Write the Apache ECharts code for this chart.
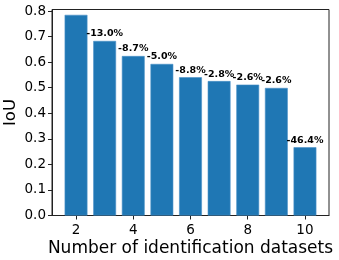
<!DOCTYPE html>
<html>
<head>
<meta charset="utf-8">
<script src="https://cdn.jsdelivr.net/npm/echarts@6/dist/echarts.min.js"></script>
<style>
html,body{margin:0;padding:0;background:#fff;}
#c{width:339px;height:260px;}
</style>
</head>
<body>
<div id="c"></div>
<script>
const datasets = [2, 3, 4, 5, 6, 7, 8, 9, 10];
const iou = [0.785, 0.683, 0.624, 0.593, 0.541, 0.526, 0.512, 0.499, 0.267];
const dropLabels = ['', '-13.0%', '-8.7%', '-5.0%', '-8.8%', '-2.8%', '-2.6%', '-2.6%', '-46.4%'];
const xTicks = [2, 4, 6, 8, 10];
const yTicks = [0, 0.1, 0.2, 0.3, 0.4, 0.5, 0.6, 0.7, 0.8];

const font = 'DejaVu Sans';
const chart = echarts.init(document.getElementById('c'), null, {renderer: 'canvas'});
chart.setOption({
  animation: false,
  backgroundColor: '#fff',
  grid: {left: 52, right: 10, top: 9.5, bottom: 44.5, outerBoundsMode: 'none', containLabel: false,
    show: true, borderColor: '#222', borderWidth: 1, backgroundColor: 'transparent'},
  xAxis: {
    type: 'value',
    min: 1.16, max: 10.84,
    name: 'Number of identification datasets',
    nameLocation: 'middle',
    nameGap: 25,
    nameMoveOverlap: false,
    nameTextStyle: {fontFamily: font, fontSize: 17, color: '#000'},
    axisLine: {show: true, onZero: false, lineStyle: {color: '#222', width: 1}},
    axisTick: {show: true, length: 4, lineStyle: {color: '#222'}, customValues: xTicks},
    axisLabel: {fontFamily: font, fontSize: 13.5, color: '#000', margin: 7.5, customValues: xTicks},
    splitLine: {show: false}
  },
  yAxis: {
    type: 'value',
    min: 0, max: 0.806,
    name: 'IoU',
    nameLocation: 'middle',
    nameGap: 33,
    nameMoveOverlap: false,
    nameRotate: 90,
    nameTextStyle: {fontFamily: font, fontSize: 16.5, color: '#000'},
    axisLine: {show: true, lineStyle: {color: '#222', width: 1}},
    axisTick: {show: true, length: 4, lineStyle: {color: '#222'}, customValues: yTicks},
    axisLabel: {fontFamily: font, fontSize: 13.5, color: '#000', margin: 6, customValues: yTicks,
      formatter: v => v.toFixed(1)},
    splitLine: {show: false}
  },
  series: [{
    type: 'bar',
    data: datasets.map((d, i) => [d, iou[i]]),
    barWidth: 22.8,
    itemStyle: {color: '#1f77b4', borderColor: '#4a90c8', borderWidth: 0.6},
    label: {
      show: true,
      position: 'top',
      distance: 2,
      fontFamily: font,
      fontSize: 9.5,
      fontWeight: 'bold',
      color: '#000',
      formatter: p => dropLabels[p.dataIndex]
    }
  }]
});
</script>
</body>
</html>
